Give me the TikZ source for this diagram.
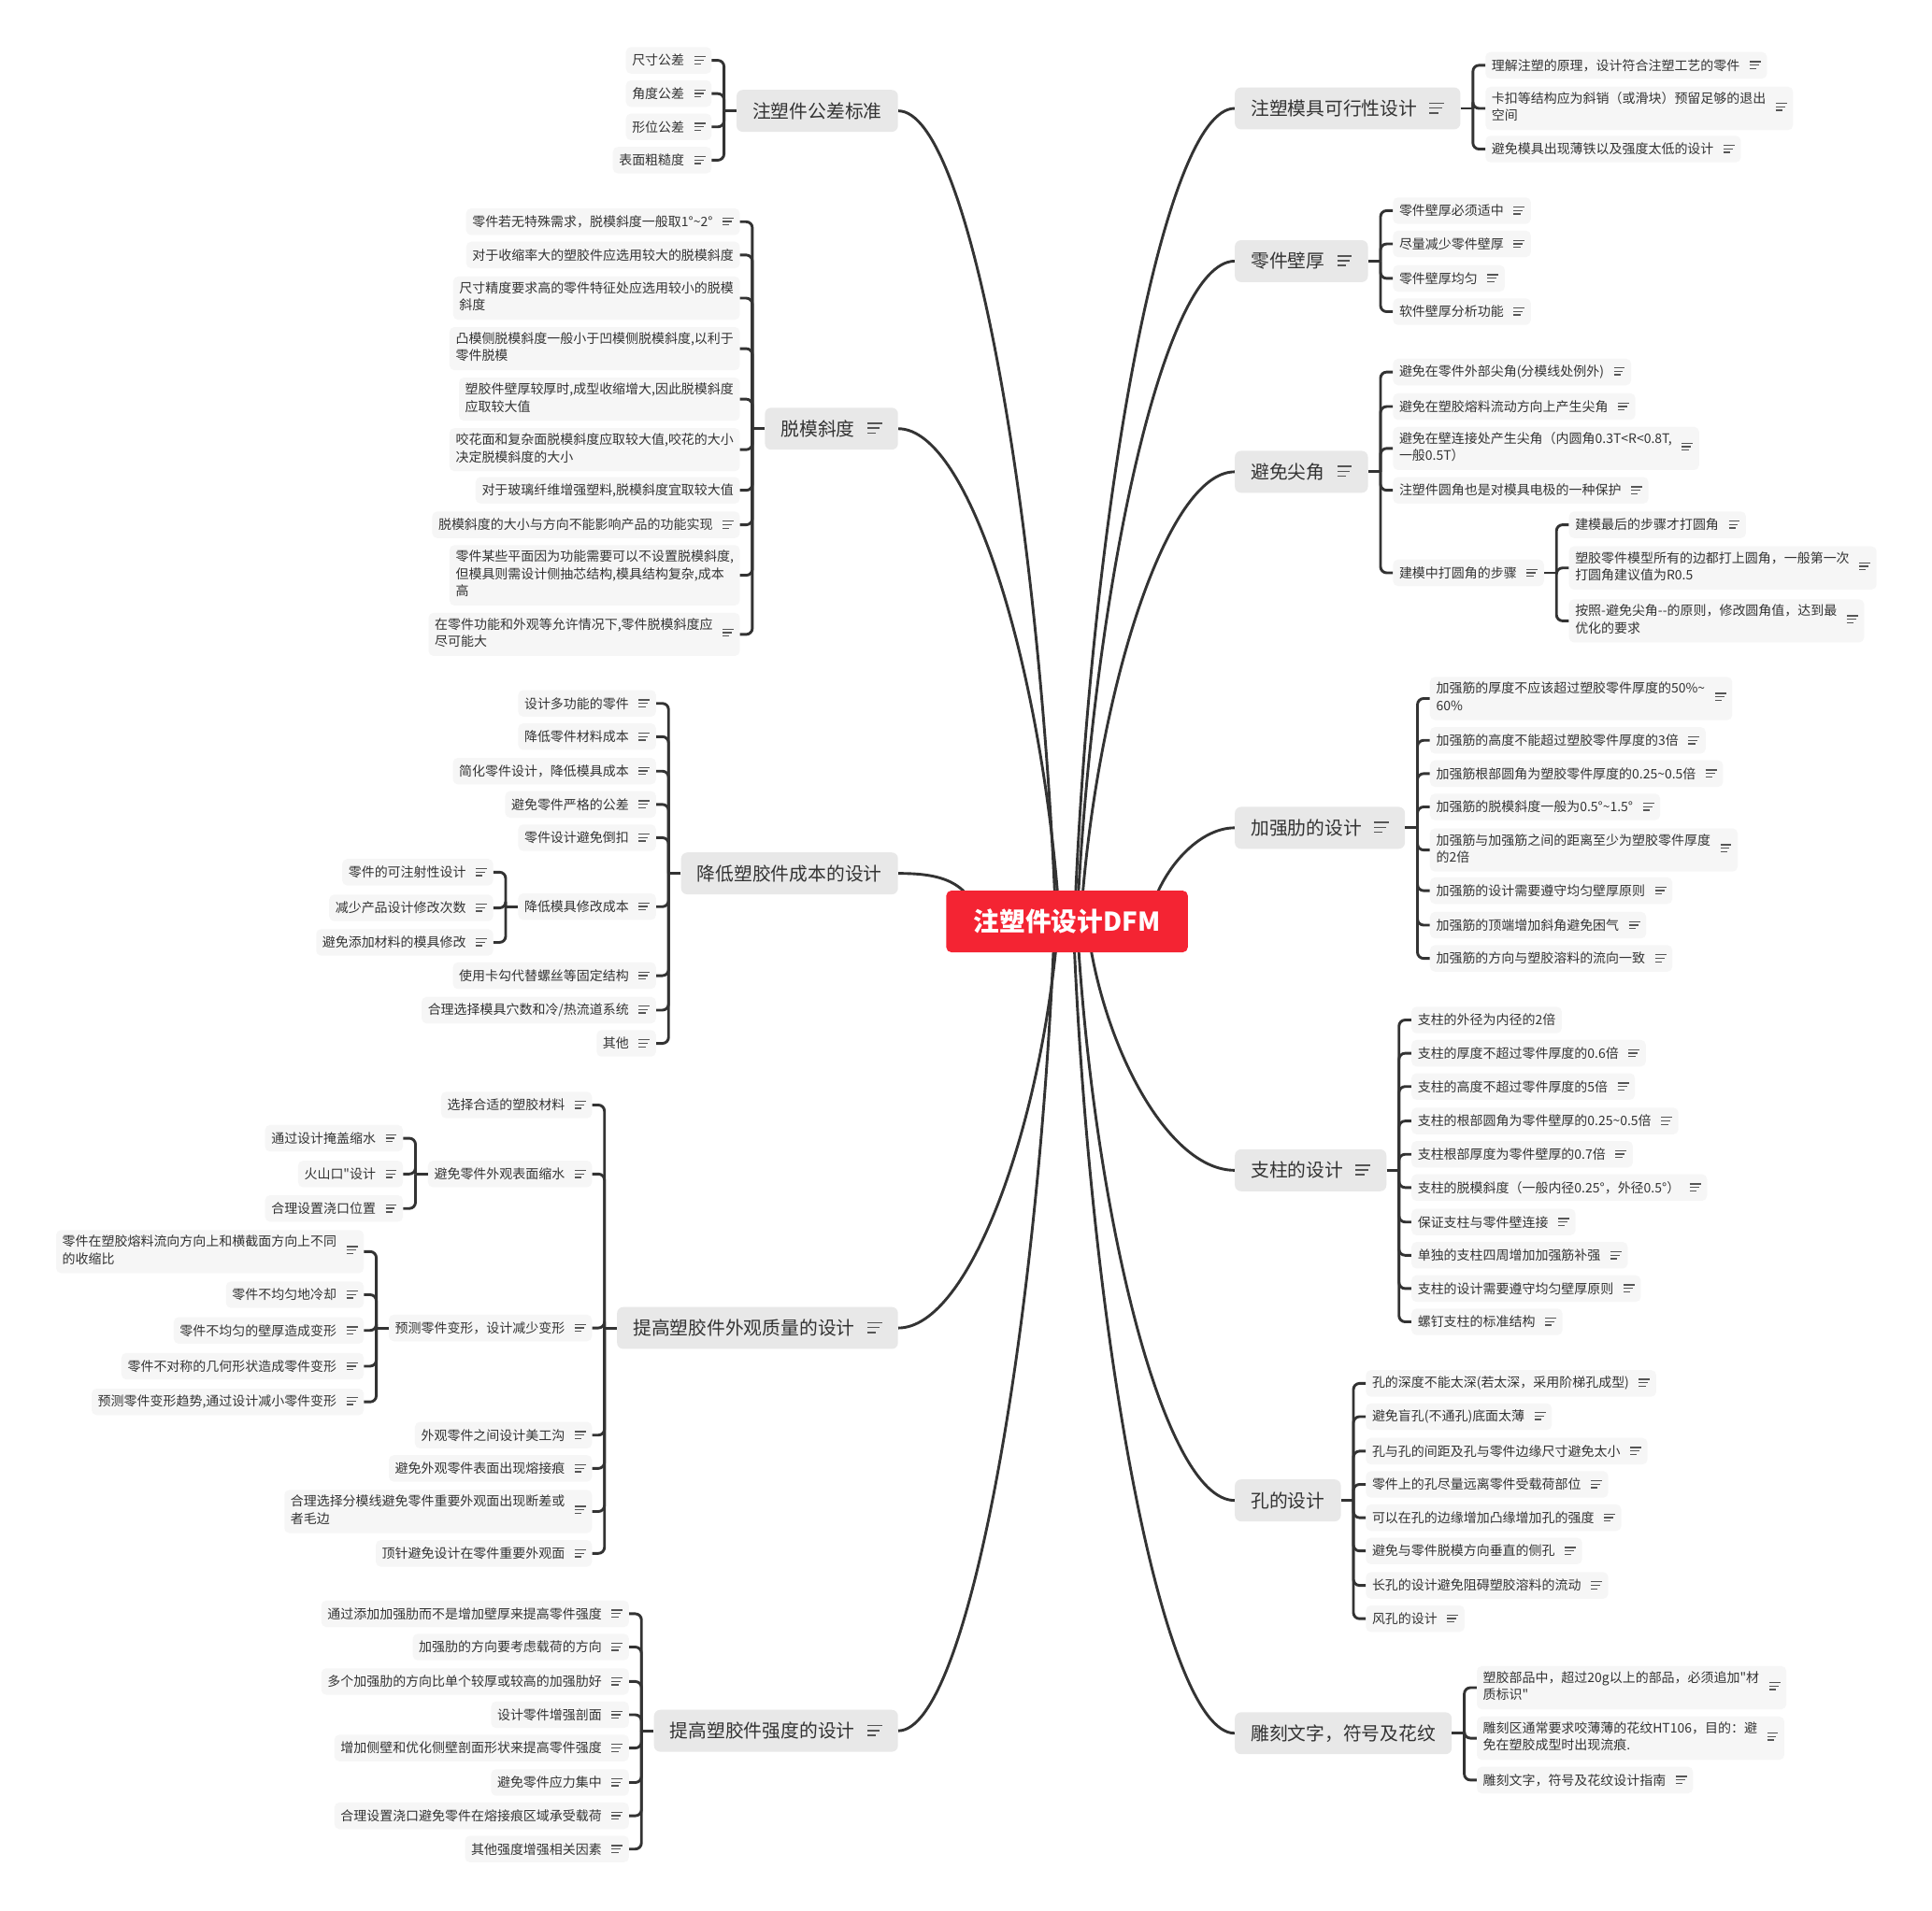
\documentclass[tikz,border=0pt]{standalone}
\usepackage{fontspec}
\setmainfont{Noto Sans CJK SC}[Ligatures=TeXOff]
\usepackage{tikz}
\usetikzlibrary{backgrounds}
\definecolor{dfmRed}{HTML}{F42433}
\definecolor{dfmTopic}{HTML}{E8E8E8}
\definecolor{dfmLeaf}{HTML}{F6F6F6}
\definecolor{dfmText}{HTML}{333333}
\definecolor{dfmLine}{HTML}{333333}
\definecolor{dfmIcon}{HTML}{555555}
% note marks
\newcommand{\noteicon}{\hspace{8pt}\raisebox{0.8pt}{\textcolor{dfmIcon}{\vbox{\hrule width 9pt height 1pt\vskip 1.8pt\hrule width 7.5pt height 1pt\vskip 1.8pt\hrule width 5.5pt height 1pt}}}}
\newcommand{\topicicon}{\hspace{10pt}\raisebox{1.5pt}{\textcolor{dfmIcon}{\vbox{\hrule width 12pt height 1.3pt\vskip 2.6pt\hrule width 10pt height 1.3pt\vskip 2.6pt\hrule width 7pt height 1.3pt}}}}
\newcommand{\mlines}[1]{\begin{tabular}{@{}l@{}}#1\end{tabular}}

\begin{document}
\begin{tikzpicture}[x=1pt, y=-1pt,
  root/.style={
    rectangle, rounded corners=4pt,
    fill=dfmRed, text=white,
    font=\fontsize{21pt}{25pt}\selectfont\bfseries,
    minimum width=196pt, minimum height=50pt
  },
  topic/.style={
    rectangle, rounded corners=5pt,
    fill=dfmTopic, text=dfmText,
    font=\fontsize{15pt}{18pt}\selectfont,
    minimum height=34pt, inner xsep=13pt
  },
  leaf/.style={
    rectangle, rounded corners=4pt,
    fill=dfmLeaf, text=dfmText,
    font=\fontsize{10.6pt}{14pt}\selectfont,
    minimum height=21.5pt, inner xsep=5pt, inner ysep=3.5pt
  },
  lkid/.style={leaf, anchor=east, xshift=-20pt},
  rkid/.style={leaf, anchor=west, xshift=20pt},
  link/.style={draw=dfmLine, line width=2.2pt},
  brace/.style={draw=dfmLine, line width=2.2pt, rounded corners=5pt},
]
\useasboundingbox (0,0) rectangle (1568,1551);

% === ROOT ===
\node[root] (dfm) at (866,748) {注塑件设计DFM};

% === TOLERANCE ===
\node[topic, anchor=east] (tol) at (729,90) {注塑件公差标准};
\node[lkid] (tol-1) at (tol.west |- 0,49) {尺寸公差\noteicon};
\node[lkid] (tol-2) at (tol.west |- 0,76) {角度公差\noteicon};
\node[lkid] (tol-3) at (tol.west |- 0,103) {形位公差\noteicon};
\node[lkid] (tol-4) at (tol.west |- 0,130) {表面粗糙度\noteicon};
\draw[brace] (tol.west) -- ++(-10,0);
\foreach \k in {1,...,4} \draw[brace] ([xshift=-10pt]tol.west) |- (tol-\k.east);

% === DRAFT ===
\node[topic, anchor=east] (draft) at (729,348) {脱模斜度\topicicon};
\node[lkid] (draft-1) at (draft.west |- 0,180) {零件若无特殊需求，脱模斜度一般取1°\textasciitilde2°\noteicon};
\node[lkid] (draft-2) at (draft.west |- 0,207) {对于收缩率大的塑胶件应选用较大的脱模斜度};
\node[lkid] (draft-3) at (draft.west |- 0,242) {\mlines{尺寸精度要求高的零件特征处应选用较小的脱模\\斜度}};
\node[lkid] (draft-4) at (draft.west |- 0,283) {\mlines{凸模侧脱模斜度一般小于凹模侧脱模斜度,以利于\\零件脱模}};
\node[lkid] (draft-5) at (draft.west |- 0,324) {\mlines{塑胶件壁厚较厚时,成型收缩增大,因此脱模斜度\\应取较大值}};
\node[lkid] (draft-6) at (draft.west |- 0,365) {\mlines{咬花面和复杂面脱模斜度应取较大值,咬花的大小\\决定脱模斜度的大小}};
\node[lkid] (draft-7) at (draft.west |- 0,398) {对于玻璃纤维增强塑料,脱模斜度宜取较大值};
\node[lkid] (draft-8) at (draft.west |- 0,426) {脱模斜度的大小与方向不能影响产品的功能实现\noteicon};
\node[lkid] (draft-9) at (draft.west |- 0,467) {\mlines{零件某些平面因为功能需要可以不设置脱模斜度,\\但模具则需设计侧抽芯结构,模具结构复杂,成本\\高}};
\node[lkid] (draft-10) at (draft.west |- 0,515) {\mlines{在零件功能和外观等允许情况下,零件脱模斜度应\\尽可能大}\noteicon};
\draw[brace] (draft.west) -- ++(-10,0);
\foreach \k in {1,...,10} \draw[brace] ([xshift=-10pt]draft.west) |- (draft-\k.east);

% === COST ===
\node[topic, anchor=east] (cost) at (729,709) {降低塑胶件成本的设计};
\node[lkid] (cost-1) at (cost.west |- 0,571) {设计多功能的零件\noteicon};
\node[lkid] (cost-2) at (cost.west |- 0,598) {降低零件材料成本\noteicon};
\node[lkid] (cost-3) at (cost.west |- 0,626) {简化零件设计，降低模具成本\noteicon};
\node[lkid] (cost-4) at (cost.west |- 0,653) {避免零件严格的公差\noteicon};
\node[lkid] (cost-5) at (cost.west |- 0,680) {零件设计避免倒扣\noteicon};
\node[lkid] (cost-6) at (cost.west |- 0,736) {降低模具修改成本\noteicon};
\node[lkid] (cost-7) at (cost.west |- 0,792) {使用卡勾代替螺丝等固定结构\noteicon};
\node[lkid] (cost-8) at (cost.west |- 0,820) {合理选择模具穴数和冷/热流道系统\noteicon};
\node[lkid] (cost-9) at (cost.west |- 0,847) {其他\noteicon};
\draw[brace] (cost.west) -- ++(-10,0);
\foreach \k in {1,...,9} \draw[brace] ([xshift=-10pt]cost.west) |- (cost-\k.east);

\node[lkid] (cost-6-1) at (cost-6.west |- 0,708) {零件的可注射性设计\noteicon};
\node[lkid] (cost-6-2) at (cost-6.west |- 0,737) {减少产品设计修改次数\noteicon};
\node[lkid] (cost-6-3) at (cost-6.west |- 0,765) {避免添加材料的模具修改\noteicon};
\draw[brace] (cost-6.west) -- ++(-10,0);
\foreach \k in {1,2,3} \draw[brace] ([xshift=-10pt]cost-6.west) |- (cost-6-\k.east);

% === APPEARANCE ===
\node[topic, anchor=east] (look) at (729,1078) {提高塑胶件外观质量的设计\topicicon};
\node[lkid] (look-1) at (look.west |- 0,897) {选择合适的塑胶材料\noteicon};
\node[lkid] (look-2) at (look.west |- 0,953) {避免零件外观表面缩水\noteicon};
\node[lkid] (look-3) at (look.west |- 0,1078) {预测零件变形，设计减少变形\noteicon};
\node[lkid] (look-4) at (look.west |- 0,1165) {外观零件之间设计美工沟\noteicon};
\node[lkid] (look-5) at (look.west |- 0,1192) {避免外观零件表面出现熔接痕\noteicon};
\node[lkid] (look-6) at (look.west |- 0,1227) {\mlines{合理选择分模线避免零件重要外观面出现断差或\\者毛边}\noteicon};
\node[lkid] (look-7) at (look.west |- 0,1261) {顶针避免设计在零件重要外观面\noteicon};
\draw[brace] (look.west) -- ++(-10,0);
\foreach \k in {1,...,7} \draw[brace] ([xshift=-10pt]look.west) |- (look-\k.east);

\node[lkid] (look-2-1) at (look-2.west |- 0,924) {通过设计掩盖缩水\noteicon};
\node[lkid] (look-2-2) at (look-2.west |- 0,953) {火山口"设计\noteicon};
\node[lkid] (look-2-3) at (look-2.west |- 0,981) {合理设置浇口位置\noteicon};
\draw[brace] (look-2.west) -- ++(-10,0);
\foreach \k in {1,2,3} \draw[brace] ([xshift=-10pt]look-2.west) |- (look-2-\k.east);

\node[lkid] (look-3-1) at (look-3.west |- 0,1016) {\mlines{零件在塑胶熔料流向方向上和横截面方向上不同\\的收缩比}\noteicon};
\node[lkid] (look-3-2) at (look-3.west |- 0,1051) {零件不均匀地冷却\noteicon};
\node[lkid] (look-3-3) at (look-3.west |- 0,1080) {零件不均匀的壁厚造成变形\noteicon};
\node[lkid] (look-3-4) at (look-3.west |- 0,1109) {零件不对称的几何形状造成零件变形\noteicon};
\node[lkid] (look-3-5) at (look-3.west |- 0,1138) {预测零件变形趋势,通过设计减小零件变形\noteicon};
\draw[brace] (look-3.west) -- ++(-10,0);
\foreach \k in {1,...,5} \draw[brace] ([xshift=-10pt]look-3.west) |- (look-3-\k.east);

% === STRENGTH ===
\node[topic, anchor=east] (str) at (729,1405) {提高塑胶件强度的设计\topicicon};
\node[lkid] (str-1) at (str.west |- 0,1310) {通过添加加强肋而不是增加壁厚来提高零件强度\noteicon};
\node[lkid] (str-2) at (str.west |- 0,1337) {加强肋的方向要考虑载荷的方向\noteicon};
\node[lkid] (str-3) at (str.west |- 0,1365) {多个加强肋的方向比单个较厚或较高的加强肋好\noteicon};
\node[lkid] (str-4) at (str.west |- 0,1392) {设计零件增强剖面\noteicon};
\node[lkid] (str-5) at (str.west |- 0,1419) {增加侧壁和优化侧壁剖面形状来提高零件强度\noteicon};
\node[lkid] (str-6) at (str.west |- 0,1447) {避免零件应力集中\noteicon};
\node[lkid] (str-7) at (str.west |- 0,1474) {合理设置浇口避免零件在熔接痕区域承受载荷\noteicon};
\node[lkid] (str-8) at (str.west |- 0,1501) {其他强度增强相关因素\noteicon};
\draw[brace] (str.west) -- ++(-10,0);
\foreach \k in {1,...,8} \draw[brace] ([xshift=-10pt]str.west) |- (str-\k.east);

% === MOLD ===
\node[topic, anchor=west] (mold) at (1002,88) {注塑模具可行性设计\topicicon};
\node[rkid] (mold-1) at (mold.east |- 0,53) {理解注塑的原理，设计符合注塑工艺的零件\noteicon};
\node[rkid] (mold-2) at (mold.east |- 0,88) {\mlines{卡扣等结构应为斜销（或滑块）预留足够的退出\\空间}\noteicon};
\node[rkid] (mold-3) at (mold.east |- 0,121) {避免模具出现薄铁以及强度太低的设计\noteicon};
\draw[brace] (mold.east) -- ++(10,0);
\foreach \k in {1,2,3} \draw[brace] ([xshift=10pt]mold.east) |- (mold-\k.west);

% === WALL ===
\node[topic, anchor=west] (wall) at (1002,212) {零件壁厚\topicicon};
\node[rkid] (wall-1) at (wall.east |- 0,171) {零件壁厚必须适中\noteicon};
\node[rkid] (wall-2) at (wall.east |- 0,198) {尽量减少零件壁厚\noteicon};
\node[rkid] (wall-3) at (wall.east |- 0,226) {零件壁厚均匀\noteicon};
\node[rkid] (wall-4) at (wall.east |- 0,253) {软件壁厚分析功能\noteicon};
\draw[brace] (wall.east) -- ++(10,0);
\foreach \k in {1,...,4} \draw[brace] ([xshift=10pt]wall.east) |- (wall-\k.west);

% === CORNER ===
\node[topic, anchor=west] (corner) at (1002,383) {避免尖角\topicicon};
\node[rkid] (corner-1) at (corner.east |- 0,302) {避免在零件外部尖角(分模线处例外)\noteicon};
\node[rkid] (corner-2) at (corner.east |- 0,330) {避免在塑胶熔料流动方向上产生尖角\noteicon};
\node[rkid] (corner-3) at (corner.east |- 0,364) {\mlines{避免在壁连接处产生尖角（内圆角0.3T<R<0.8T,\\一般0.5T）}\noteicon};
\node[rkid] (corner-4) at (corner.east |- 0,398) {注塑件圆角也是对模具电极的一种保护\noteicon};
\node[rkid] (corner-5) at (corner.east |- 0,465) {建模中打圆角的步骤\noteicon};
\draw[brace] (corner.east) -- ++(10,0);
\foreach \k in {1,...,5} \draw[brace] ([xshift=10pt]corner.east) |- (corner-\k.west);

\node[rkid] (corner-5-1) at (corner-5.east |- 0,426) {建模最后的步骤才打圆角\noteicon};
\node[rkid] (corner-5-2) at (corner-5.east |- 0,461) {\mlines{塑胶零件模型所有的边都打上圆角，一般第一次\\打圆角建议值为R0.5}\noteicon};
\node[rkid] (corner-5-3) at (corner-5.east |- 0,504) {\mlines{按照-避免尖角--的原则，修改圆角值，达到最\\优化的要求}\noteicon};
\draw[brace] (corner-5.east) -- ++(10,0);
\foreach \k in {1,2,3} \draw[brace] ([xshift=10pt]corner-5.east) |- (corner-5-\k.west);

% === RIBS ===
\node[topic, anchor=west] (rib) at (1002,672) {加强肋的设计\topicicon};
\node[rkid] (rib-1) at (rib.east |- 0,567) {\mlines{加强筋的厚度不应该超过塑胶零件厚度的50\%\textasciitilde\\60\%}\noteicon};
\node[rkid] (rib-2) at (rib.east |- 0,601) {加强筋的高度不能超过塑胶零件厚度的3倍\noteicon};
\node[rkid] (rib-3) at (rib.east |- 0,628) {加强筋根部圆角为塑胶零件厚度的0.25\textasciitilde0.5倍\noteicon};
\node[rkid] (rib-4) at (rib.east |- 0,655) {加强筋的脱模斜度一般为0.5°\textasciitilde1.5°\noteicon};
\node[rkid] (rib-5) at (rib.east |- 0,690) {\mlines{加强筋与加强筋之间的距离至少为塑胶零件厚度\\的2倍}\noteicon};
\node[rkid] (rib-6) at (rib.east |- 0,723) {加强筋的设计需要遵守均匀壁厚原则\noteicon};
\node[rkid] (rib-7) at (rib.east |- 0,751) {加强筋的顶端增加斜角避免困气\noteicon};
\node[rkid] (rib-8) at (rib.east |- 0,778) {加强筋的方向与塑胶溶料的流向一致\noteicon};
\draw[brace] (rib.east) -- ++(10,0);
\foreach \k in {1,...,8} \draw[brace] ([xshift=10pt]rib.east) |- (rib-\k.west);

% === BOSS ===
\node[topic, anchor=west] (boss) at (1002,950) {支柱的设计\topicicon};
\node[rkid] (boss-1) at (boss.east |- 0,828) {支柱的外径为内径的2倍};
\node[rkid] (boss-2) at (boss.east |- 0,855) {支柱的厚度不超过零件厚度的0.6倍\noteicon};
\node[rkid] (boss-3) at (boss.east |- 0,882) {支柱的高度不超过零件厚度的5倍\noteicon};
\node[rkid] (boss-4) at (boss.east |- 0,910) {支柱的根部圆角为零件壁厚的0.25\textasciitilde0.5倍\noteicon};
\node[rkid] (boss-5) at (boss.east |- 0,937) {支柱根部厚度为零件壁厚的0.7倍\noteicon};
\node[rkid] (boss-6) at (boss.east |- 0,964) {支柱的脱模斜度（一般内径0.25°，外径0.5°）\noteicon};
\node[rkid] (boss-7) at (boss.east |- 0,992) {保证支柱与零件壁连接\noteicon};
\node[rkid] (boss-8) at (boss.east |- 0,1019) {单独的支柱四周增加加强筋补强\noteicon};
\node[rkid] (boss-9) at (boss.east |- 0,1046) {支柱的设计需要遵守均匀壁厚原则\noteicon};
\node[rkid] (boss-10) at (boss.east |- 0,1073) {螺钉支柱的标准结构\noteicon};
\draw[brace] (boss.east) -- ++(10,0);
\foreach \k in {1,...,10} \draw[brace] ([xshift=10pt]boss.east) |- (boss-\k.west);

% === HOLES ===
\node[topic, anchor=west] (hole) at (1002,1218) {孔的设计};
\node[rkid] (hole-1) at (hole.east |- 0,1123) {孔的深度不能太深(若太深，采用阶梯孔成型)\noteicon};
\node[rkid] (hole-2) at (hole.east |- 0,1150) {避免盲孔(不通孔)底面太薄\noteicon};
\node[rkid] (hole-3) at (hole.east |- 0,1178) {孔与孔的间距及孔与零件边缘尺寸避免太小\noteicon};
\node[rkid] (hole-4) at (hole.east |- 0,1205) {零件上的孔尽量远离零件受载荷部位\noteicon};
\node[rkid] (hole-5) at (hole.east |- 0,1232) {可以在孔的边缘增加凸缘增加孔的强度\noteicon};
\node[rkid] (hole-6) at (hole.east |- 0,1259) {避免与零件脱模方向垂直的侧孔\noteicon};
\node[rkid] (hole-7) at (hole.east |- 0,1287) {长孔的设计避免阻碍塑胶溶料的流动\noteicon};
\node[rkid] (hole-8) at (hole.east |- 0,1314) {风孔的设计\noteicon};
\draw[brace] (hole.east) -- ++(10,0);
\foreach \k in {1,...,8} \draw[brace] ([xshift=10pt]hole.east) |- (hole-\k.west);

% === ENGRAVING ===
\node[topic, anchor=west] (mark) at (1002,1407) {雕刻文字，符号及花纹};
\node[rkid] (mark-1) at (mark.east |- 0,1370) {\mlines{塑胶部品中，超过20g以上的部品，必须追加"材\\质标识"}\noteicon};
\node[rkid] (mark-2) at (mark.east |- 0,1411) {\mlines{雕刻区通常要求咬薄薄的花纹HT106，目的：避\\免在塑胶成型时出现流痕.}\noteicon};
\node[rkid] (mark-3) at (mark.east |- 0,1445) {雕刻文字，符号及花纹设计指南\noteicon};
\draw[brace] (mark.east) -- ++(10,0);
\foreach \k in {1,2,3} \draw[brace] ([xshift=10pt]mark.east) |- (mark-\k.west);

% === MAIN CURVES (behind the root) ===
\begin{scope}[on background layer]
\fill[white] (0,0) rectangle (1568,1551);
\draw[link] ([xshift=-9pt]dfm.center) .. controls +(-13,-329) and +(58,0) .. (tol.east);
\draw[link] ([xshift=-6pt]dfm.center) .. controls +(-13,-200) and +(59,0) .. (draft.east);
\draw[link] ([xshift=-71pt]dfm.center) .. controls +(-8,-34) and +(32,0) .. (cost.east);
\draw[link] ([xshift=-7pt]dfm.center) .. controls +(-13,165) and +(58,0) .. (look.east);
\draw[link] ([xshift=-10pt]dfm.center) .. controls +(-13,328) and +(57,0) .. (str.east);
\draw[link] ([xshift=6pt]dfm.center) .. controls +(13,-330) and +(-58,0) .. (mold.west);
\draw[link] ([xshift=8pt]dfm.center) .. controls +(13,-268) and +(-58,0) .. (wall.west);
\draw[link] ([xshift=11pt]dfm.center) .. controls +(12,-182) and +(-56,0) .. (corner.west);
\draw[link] ([xshift=66pt]dfm.center) .. controls +(7,-38) and +(-31,0) .. (rib.west);
\draw[link] ([xshift=16pt]dfm.center) .. controls +(12,101) and +(-54,0) .. (boss.west);
\draw[link] ([xshift=8pt]dfm.center) .. controls +(13,235) and +(-58,0) .. (hole.west);
\draw[link] ([xshift=5pt]dfm.center) .. controls +(13,330) and +(-59,0) .. (mark.west);
\end{scope}

\end{tikzpicture}
\end{document}
